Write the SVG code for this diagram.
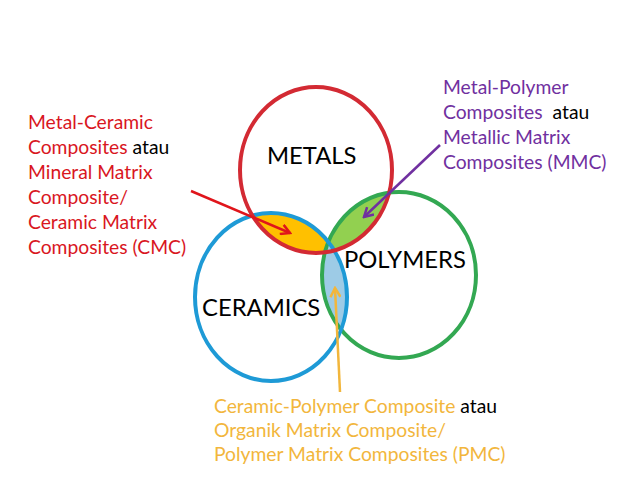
<svg xmlns="http://www.w3.org/2000/svg" width="638" height="479" viewBox="0 0 638 479">
<style>
text{font-family:Lato,"Liberation Sans",sans-serif;}
.lbl{font-size:23.8px;fill:#000;}
.t{font-size:19.3px;}
.red{fill:#D9161E;}
.pur{fill:#7030A0;}
.yel{fill:#F2B63C;}
.blk{fill:#000;}
.ring{fill:none;stroke-width:4;}
</style>
<defs>
<clipPath id="cRed"><ellipse cx="316" cy="170" rx="76" ry="83"/></clipPath>
<clipPath id="cGreen"><ellipse cx="399" cy="275" rx="77" ry="83"/></clipPath>
<marker id="aRed" markerWidth="12" markerHeight="12" refX="10" refY="6" orient="auto" markerUnits="userSpaceOnUse"><path d="M1,1 L10,6 L1,11" fill="none" stroke="#E0151B" stroke-width="2.5"/></marker>
<marker id="aPur" markerWidth="12" markerHeight="12" refX="10" refY="6" orient="auto" markerUnits="userSpaceOnUse"><path d="M1,1 L10,6 L1,11" fill="none" stroke="#7030A0" stroke-width="2.5"/></marker>
<marker id="aYel" markerWidth="12" markerHeight="12" refX="10" refY="6" orient="auto" markerUnits="userSpaceOnUse"><path d="M1,1 L10,6 L1,11" fill="none" stroke="#F2B63C" stroke-width="2.5"/></marker>
</defs>
<rect width="638" height="479" fill="#fff"/>
<g id="overlaps">
<ellipse cx="271" cy="297" rx="76" ry="84" fill="#FFC000" clip-path="url(#cRed)"/>
<ellipse cx="399" cy="275" rx="77" ry="83" fill="#92D050" clip-path="url(#cRed)"/>
<ellipse cx="271" cy="297" rx="76" ry="84" fill="#9DCBE6" clip-path="url(#cGreen)"/>
</g>
<g id="polymers">
<ellipse class="ring" cx="399" cy="275" rx="77" ry="83" stroke="#33A852"/>
<text class="lbl" x="344" y="268">POLYMERS</text>
</g>
<g id="ceramics">
<ellipse class="ring" cx="271" cy="297" rx="76" ry="84" stroke="#1E9AD6"/>
<text class="lbl" x="202" y="316">CERAMICS</text>
</g>
<g id="metals">
<ellipse class="ring" cx="316" cy="170" rx="76" ry="83" stroke="#D32A33"/>
<text class="lbl" x="267" y="164">METALS</text>
</g>
<g id="connectors">
<line x1="191" y1="191" x2="290" y2="233" stroke="#E0151B" stroke-width="2.5" marker-end="url(#aRed)"/>
<line x1="440" y1="145" x2="364" y2="217" stroke="#7030A0" stroke-width="2.5" marker-end="url(#aPur)"/>
<line x1="340" y1="392" x2="335" y2="288" stroke="#F2B63C" stroke-width="2.5" marker-end="url(#aYel)"/>
</g>
<g id="cmc-label" class="t">
<text x="28" y="129" class="red">Metal-Ceramic</text>
<text x="28" y="154"><tspan class="red">Composites</tspan><tspan class="blk"> atau</tspan></text>
<text x="28" y="179" class="red">Mineral Matrix</text>
<text x="28" y="204" class="red">Composite/</text>
<text x="28" y="229" class="red">Ceramic Matrix</text>
<text x="28" y="254" class="red">Composites (CMC)</text>
</g>
<g id="mmc-label" class="t">
<text x="443" y="94" class="pur">Metal-Polymer</text>
<text x="443" y="119"><tspan class="pur">Composites</tspan><tspan class="blk" dx="5"> atau</tspan></text>
<text x="443" y="144" class="pur">Metallic Matrix</text>
<text x="443" y="169" class="pur">Composites (MMC)</text>
</g>
<g id="pmc-label" class="t">
<text x="214" y="413"><tspan class="yel">Ceramic-Polymer Composite</tspan><tspan class="blk"> atau</tspan></text>
<text x="214" y="437" class="yel">Organik Matrix Composite/</text>
<text x="214" y="461" class="yel">Polymer Matrix Composites (PMC)</text>
</g>
</svg>
